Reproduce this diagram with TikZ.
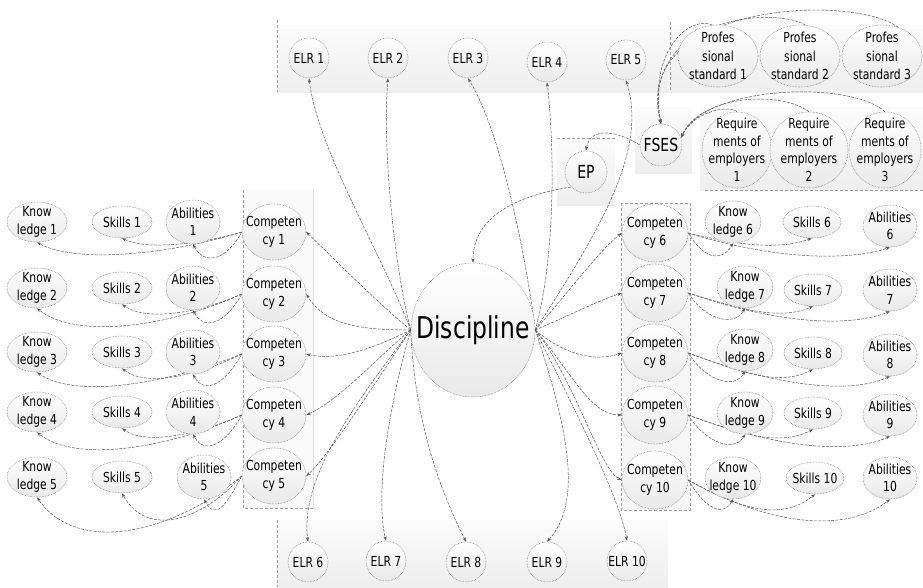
\documentclass[tikz,border=0pt]{standalone}
\usepackage{fontspec}
\newfontfamily\df[FakeStretch=0.78]{DejaVu Sans}
\usetikzlibrary{shapes.geometric,arrows.meta,calc}
\pgfdeclarelayer{bg}\pgfdeclarelayer{edges}
\pgfsetlayers{bg,edges,main}
\begin{document}
\begin{tikzpicture}[x=1pt,y=-1pt,
 ell/.style={ellipse,draw=black!55,densely dotted,line width=0.55pt,top color=white,bottom color=gray!17,inner sep=0pt},
 txt/.style={align=center,inner sep=0pt,text=black,font=\df\fontsize{13.8}{17.5}\selectfont},
 bigtxt/.style={align=center,inner sep=0pt,text=black,font=\df\fontsize{18}{20}\selectfont},
 con/.style={draw=black!65,line width=0.5pt,dash pattern=on 3pt off 1.3pt,-{Stealth[length=4.5pt,width=3.2pt]}},
 pan/.style={top color=gray!3,bottom color=gray!13,draw=none},
 pdash/.style={draw=gray!75,dash pattern=on 3pt off 2pt,line width=0.5pt}]
\useasboundingbox (0,0) rectangle (923,587);

% panels
\begin{pgfonlayer}{bg}
\fill[white] (0,0) rectangle (923,587);
\path[pan] (277,25) rectangle (668,92);
\draw[pdash] (277,20) -- (277,92);
\path[pan] (670,25) rectangle (923,92);
\draw[pdash] (670,22) -- (670,92);
\path[pan] (635,107) rectangle (692,173);
\path[pan] (700,107) rectangle (923,190);
\draw[pdash] (705,190) -- (923,190);
\path[pan] (557,138) rectangle (615,205);
\draw[pdash] (557,138) -- (615,138);
\path[fill=gray!4] (243,190) rectangle (313,508);
\draw[pdash] (243,190) -- (243,508) -- (313,508);
\draw[gray!25] (313,190) -- (313,508);
\path[fill=gray!7] (621,203) rectangle (690,510);
\draw[pdash] (621,203) rectangle (690,510);
\path[pan] (277,520) rectangle (668,587);
\draw[pdash] (277,520) -- (277,587);
\end{pgfonlayer}

% nodes
\node[ell,minimum width=124,minimum height=134,label={[align=center,inner sep=0pt,text=black,font=\df\fontsize{30}{34}\selectfont]center:Discipline}] (D) at (473,330) {};

\foreach \i/\x/\y in {1/309/58,2/388/58,3/468/58,4/547/62,5/626/60,6/308/562,7/386/561,8/466/562,9/547/562,10/627/561}
  \node[ell,minimum width=40,minimum height=40,label={[txt]center:ELR \i}] (e\i) at (\x,\y) {};

\foreach \i/\x in {1/718,2/800,3/882}
  \node[ell,minimum width=80,minimum height=62,label={[txt,font=\df\fontsize{13.8}{18.5}\selectfont]center:{Profes\\sional\\standard \i}}] (p\i) at (\x,56) {};

\node[ell,minimum width=70,minimum height=76,label={[txt]center:{Require\\ments of\\employers\\1}}] (r1) at (737,150) {};
\node[ell,minimum width=78,minimum height=76,label={[txt]center:{Require\\ments of\\employers\\2}}] (r2) at (809,150) {};
\node[ell,minimum width=72,minimum height=76,label={[txt]center:{Require\\ments of\\employers\\3}}] (r3) at (885,150) {};

\node[ell,minimum width=42,minimum height=42,label={[bigtxt]center:FSES}] (f) at (661,145) {};
\node[ell,minimum width=42,minimum height=42,label={[bigtxt]center:EP}] (ep) at (586,172) {};

\foreach \i/\y/\yr/\ax in {1/232/222/193,2/294/288/193,3/354/352/193,4/415/412/193,5/476/477/204} {
  \node[ell,minimum width=64,minimum height=56,label={[txt]center:{Competen\\cy \i}}] (c\i) at (274,\y) {};
  \node[ell,minimum width=60,minimum height=40,label={[txt]center:{Know\\ledge \i}}] (k\i) at (37,\yr) {};
  \node[ell,minimum width=60,minimum height=32,label={[txt]center:{Skills \i}}] (s\i) at (122,\yr) {};
  \node[ell,minimum width=54,minimum height=44,label={[txt]center:{Abilities\\\i}}] (a\i) at (\ax,\yr) {};
}
\foreach \i/\y/\kx/\ky/\sx/\sy/\ay in {6/233/733/222/812/222/226,7/293/745/287/813/290/290,8/353/745/350/813/353/355,9/415/745/413/813/413/415,10/480/733/478/815/478/478} {
  \node[ell,minimum width=66,minimum height=58,label={[txt]center:{Competen\\cy \i}}] (c\i) at (655,\y) {};
  \node[ell,minimum width=56,minimum height=42,label={[txt]center:{Know\\ledge \i}}] (k\i) at (\kx,\ky) {};
  \node[ell,minimum width=58,minimum height=32,label={[txt]center:{Skills \i}}] (s\i) at (\sx,\sy) {};
  \node[ell,minimum width=54,minimum height=42,label={[txt]center:{Abilities\\\i}}] (a\i) at (890,\ay) {};
}

% connectors
\begin{pgfonlayer}{edges}
\draw[con] (D.west) .. controls (380,305) and (330,255) .. (c1.east);
\draw[con] (D.west) .. controls (360,330) and (325,325) .. (c2.east);
\draw[con] (D.west) .. controls (380,345) and (340,362) .. (c3.east);
\draw[con] (D.west) .. controls (385,350) and (340,400) .. (c4.east);
\draw[con] (D.west) .. controls (390,360) and (330,455) .. (c5.east);

\draw[con] (D.east) .. controls (570,290) and (600,250) .. (c6.west);
\draw[con] (D.east) .. controls (570,315) and (600,300) .. (c7.west);
\draw[con] (D.east) .. controls (565,355) and (595,362) .. (c8.west);
\draw[con] (D.east) .. controls (570,370) and (590,415) .. (c9.west);
\draw[con] (D.east) .. controls (575,380) and (600,470) .. (c10.west);

\draw[con] (D.west) .. controls (380,250) and (318,150) .. (e1.south);
\draw[con] (D.west) .. controls (395,270) and (382,150) .. (e2.south);
\draw[con] (D.east) .. controls (525,250) and (500,130) .. (e3.south);
\draw[con] (D.east) .. controls (555,260) and (555,150) .. (e4.south);
\draw[con] (D.east) .. controls (600,230) and (648,150) .. (e5.south);
\draw[con] (D.west) .. controls (350,410) and (300,480) .. (e6.north);
\draw[con] (D.west) .. controls (385,420) and (376,500) .. (e7.north);
\draw[con] (D.west) .. controls (415,430) and (445,500) .. (e8.north);
\draw[con] (D.east) .. controls (565,420) and (585,500) .. (e9.north);
\draw[con] (D.east) .. controls (580,420) and (620,500) .. (e10.north);

\draw[con] (ep.south west) .. controls (520,195) and (473,215) .. (D.north);
\draw[con] (f.west) .. controls (620,132) and (590,125) .. (ep.north);

\draw[con] (p3.60) .. controls (850,-8) and (630,5) .. (f.north);
\draw[con] (p2.80) .. controls (770,5) and (640,20) .. (f.north);
\draw[con] (p1.100) .. controls (690,15) and (648,50) .. (f.north);
\draw[con] (r1.north) .. controls (730,105) and (695,110) .. (f.20);
\draw[con] (r2.north) .. controls (780,90) and (700,95) .. (f.20);
\draw[con] (r3.north) .. controls (850,80) and (705,85) .. (f.20);

\foreach \i/\dk/\ds in {1/22/12,2/32/18,3/28/20,4/32/18,5/58/45} {
  \draw[con] (c\i.west) .. controls +(-70,\dk) and +(40,\dk) .. (k\i.south);
  \draw[con] (c\i.west) .. controls +(-40,\ds) and +(25,\ds) .. (s\i.south);
  \draw[con] (c\i.west) .. controls +(-15,28) and +(12,22) .. (a\i.south);
}
\foreach \i/\ds/\da in {6/12/15,7/15/18,8/18/20,9/18/20,10/28/35} {
  \draw[con] (c\i.east) .. controls +(15,25) and +(-12,20) .. (k\i.south);
  \draw[con] (c\i.east) .. controls +(50,\ds) and +(-35,\ds) .. (s\i.south);
  \draw[con] (c\i.east) .. controls +(80,\da+10) and +(-45,\da) .. (a\i.south);
}
\end{pgfonlayer}
\end{tikzpicture}
\end{document}
